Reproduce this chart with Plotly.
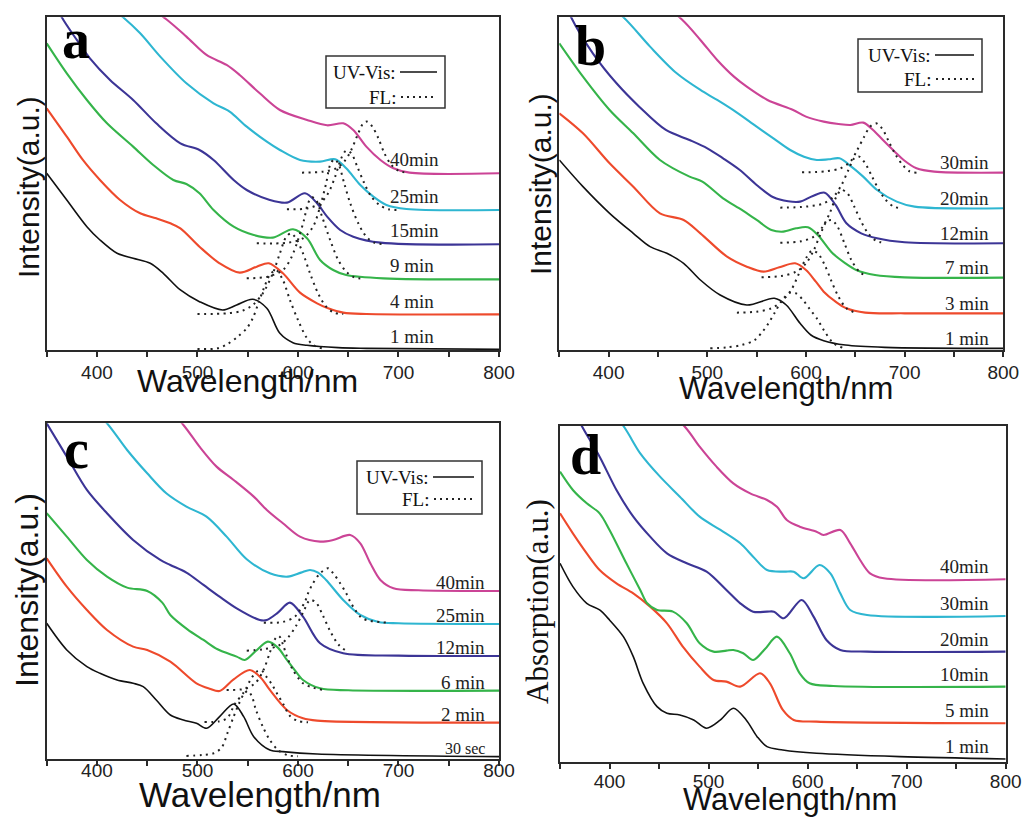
import plotly.graph_objects as go

W, H = 1031, 817

COLORS = ["#111111", "#EE4A2C", "#35B44A", "#3C3596", "#2EB6D1", "#CB4496"]

# ---------------- panel a (wavelength nm, intensity a.u.) ----------------
A_UV_1 = [(350,530),(370,450),(390,370),(403,330),(420,290),(436,275),(453,260),(466,230),(483,180),(502,145),(525,120),(539,135),(555,152),(569,125),(582,50),(595,22),(609,14),(640,7),(668,5),(800,2)]
A_UV_2 = [(350,725),(370,640),(386,570),(403,510),(423,450),(443,410),(459,395),(473,380),(483,365),(502,310),(522,260),(542,232),(559,250),(571,260),(585,230),(602,172),(619,140),(630,125),(645,112),(668,108),(800,107)]
A_UV_3 = [(350,920),(370,830),(390,750),(410,680),(436,610),(456,555),(476,510),(489,498),(502,470),(516,420),(536,370),(556,345),(575,337),(595,362),(609,335),(622,270),(635,240),(648,225),(685,215),(800,212)]
A_UV_4 = [(350,1090),(365,998),(380,930),(393,875),(413,810),(436,750),(459,680),(483,620),(502,600),(516,570),(536,510),(549,480),(572,450),(589,442),(607,470),(619,440),(629,400),(642,360),(655,340),(682,322),(800,317)]
A_UV_5 = [(350,1180),(400,1060),(426,998),(443,950),(463,880),(489,800),(516,740),(532,715),(549,670),(569,625),(582,600),(602,570),(622,565),(637,572),(648,545),(662,495),(675,460),(688,435),(708,423),(800,420)]
A_UV_6 = [(350,1250),(420,1100),(469,992),(489,940),(509,885),(529,855),(542,825),(562,770),(582,720),(609,690),(629,674),(645,680),(655,660),(668,610),(682,570),(695,545),(711,532),(800,530)]

A_FL_1 = [(500,3),(520,5),(530,18),(540,40),(549,65),(555,95),(560,135),(566,185),(572,225),(578,240),(585,210),(592,150),(600,90),(608,40),(615,15),(625,4)]
A_FL_2 = [(500,108),(530,110),(545,118),(555,135),(565,170),(575,230),(582,290),(588,338),(593,350),(598,335),(605,290),(612,230),(620,170),(628,130),(636,112),(645,108)]
A_FL_3 = [(549,215),(570,220),(585,240),(593,275),(600,330),(606,390),(610,440),(614,458),(618,450),(624,400),(632,330),(640,270),(648,235),(656,218),(665,214)]
A_FL_4 = [(559,320),(590,322),(605,335),(615,370),(622,430),(628,500),(632,555),(636,572),(640,560),(646,500),(652,440),(660,380),(668,340),(676,322),(685,318)]
A_FL_5 = [(589,422),(610,425),(622,440),(630,470),(637,520),(643,575),(648,598),(653,590),(659,550),(666,500),(673,460),(681,435),(690,422),(700,420)]
A_FL_6 = [(604,532),(625,535),(638,545),(646,565),(653,600),(660,650),(665,680),(669,685),(674,670),(680,635),(686,590),(693,555),(700,538),(708,532)]

A_LABELS = ["1 min", "4 min", "9 min", "15min", "25min", "40min"]

# ---------------- panel b ----------------
B_UV_1 = [(350,570),(374,490),(401,410),(425,350),(442,310),(459,290),(476,260),(493,210),(513,165),(540,135),(568,155),(580,135),(594,80),(605,45),(618,28),(640,15),(680,8),(800,5)]
B_UV_2 = [(350,710),(374,650),(401,560),(425,490),(452,410),(476,390),(493,350),(520,280),(540,250),(557,235),(573,248),(589,260),(600,240),(610,205),(618,175),(630,145),(641,125),(660,112),(700,110),(800,110)]
B_UV_3 = [(350,920),(374,820),(401,720),(425,650),(452,570),(482,520),(495,505),(516,455),(535,420),(550,390),(565,360),(577,355),(590,365),(602,368),(612,345),(627,290),(640,260),(651,240),(670,225),(700,218),(800,217)]
B_UV_4 = [(350,1090),(362,998),(384,890),(408,800),(431,730),(458,660),(482,630),(500,605),(516,575),(533,540),(550,495),(567,458),(582,446),(594,445),(607,462),(619,472),(630,435),(641,380),(656,350),(672,335),(700,323),(800,320)]
B_UV_5 = [(350,1180),(380,1080),(415,998),(442,910),(469,830),(493,780),(510,750),(526,720),(550,670),(567,635),(584,600),(598,580),(611,570),(623,572),(634,575),(646,550),(658,520),(672,480),(692,445),(710,430),(800,425)]
B_UV_6 = [(350,1250),(420,1120),(474,992),(493,930),(510,870),(527,820),(540,790),(561,750),(587,720),(600,700),(618,685),(633,678),(645,675),(658,682),(668,660),(678,630),(690,595),(699,570),(712,545),(730,535),(800,532)]

B_FL_1 = [(503,5),(520,8),(535,15),(548,30),(556,55),(562,80),(568,110),(576,150),(584,172),(590,170),(597,150),(604,122),(611,95),(618,60),(628,20),(638,6)]
B_FL_2 = [(530,112),(550,115),(565,125),(575,145),(585,180),(593,230),(600,275),(606,298),(612,290),(619,255),(626,205),(633,160),(641,125),(650,112)]
B_FL_3 = [(555,218),(575,222),(590,235),(600,260),(608,300),(615,350),(621,385),(626,390),(632,370),(639,320),(646,270),(654,235),(662,220)]
B_FL_4 = [(574,322),(595,326),(608,340),(617,370),(624,410),(630,455),(636,480),(642,470),(649,430),(656,385),(663,350),(671,328),(680,321)]
B_FL_5 = [(574,427),(600,430),(618,440),(628,460),(636,495),(643,540),(649,575),(654,580),(660,560),(667,520),(674,480),(681,450),(689,430),(698,425)]
B_FL_6 = [(596,533),(620,536),(635,545),(645,565),(652,600),(659,640),(665,670),(671,680),(677,665),(684,625),(691,585),(698,555),(705,536),(712,532)]

B_LABELS = ["1 min", "3 min", "7 min", "12min", "20min", "30min"]

# ---------------- panel c ----------------
C_UV_1 = [(350,408),(370,328),(390,278),(403,258),(420,238),(436,228),(446,218),(459,178),(473,133),(486,118),(499,108),(509,93),(522,128),(536,166),(546,128),(556,68),(572,28),(585,23),(619,16),(800,8)]
C_UV_2 = [(350,603),(370,518),(390,448),(410,388),(436,338),(450,328),(473,293),(499,228),(512,212),(522,205),(536,240),(552,268),(563,245),(572,208),(589,148),(605,123),(619,116),(800,110)]
C_UV_3 = [(350,738),(370,668),(390,598),(410,548),(430,515),(450,505),(465,470),(473,433),(490,390),(506,358),(520,330),(539,308),(547,298),(558,325),(570,353),(580,335),(589,298),(600,255),(605,238),(622,213),(650,207),(800,206)]
C_UV_4 = [(350,1008),(370,908),(390,808),(410,738),(436,658),(463,598),(473,583),(489,560),(506,523),(522,488),(539,453),(562,418),(569,418),(580,440),(592,470),(605,428),(622,348),(645,318),(700,311),(800,310)]
C_UV_5 = [(350,1200),(380,1100),(410,1008),(430,928),(450,858),(469,798),(489,758),(509,728),(529,668),(549,600),(572,558),(590,548),(603,560),(612,568),(620,560),(628,538),(645,478),(662,433),(680,412),(700,408),(800,406)]
C_UV_6 = [(400,1250),(450,1120),(486,1003),(502,938),(519,878),(536,838),(556,788),(569,748),(585,708),(602,668),(622,653),(635,658),(652,673),(662,648),(672,588),(682,538),(695,513),(720,507),(800,505)]

C_FL_1 = [(489,10),(505,13),(516,18),(524,35),(530,80),(536,128),(541,165),(546,195),(550,205),(554,190),(558,150),(565,98),(572,58),(580,28),(590,12),(600,9)]
C_FL_2 = [(507,112),(522,114),(530,125),(537,165),(547,205),(554,245),(560,265),(564,266),(568,250),(574,225),(579,198),(585,168),(592,130),(600,115),(610,111)]
C_FL_3 = [(529,208),(548,212),(558,230),(566,270),(572,320),(577,360),(581,370),(585,345),(589,308),(595,268),(605,228),(615,215),(625,208)]
C_FL_4 = [(549,326),(565,330),(580,340),(590,365),(598,400),(605,440),(612,478),(618,470),(625,430),(632,385),(640,345),(648,325)]
C_FL_5 = [(566,410),(585,412),(597,428),(602,448),(607,473),(610,498),(614,523),(622,558),(630,573),(635,558),(642,528),(648,498),(652,473),(657,448),(662,428),(668,418),(688,410)]

C_LABELS = ["30 sec", "2 min", "6 min", "12min", "25min", "40min"]

# ---------------- panel d (absorption) ----------------
D_UV_1 = [(350,597),(363,527),(377,477),(390,457),(400,427),(414,377),(424,317),(434,237),(448,167),(458,147),(471,142),(485,127),(498,102),(512,127),(525,162),(538,127),(549,77),(559,47),(575,37),(609,27),(693,17),(800,10)]
D_UV_2 = [(350,747),(363,687),(377,627),(390,577),(407,537),(424,507),(441,467),(458,417),(474,347),(491,287),(505,247),(518,242),(532,227),(552,267),(562,237),(575,157),(586,127),(609,122),(800,117)]
D_UV_3 = [(350,872),(363,817),(377,777),(390,747),(400,697),(417,597),(431,517),(438,477),(448,457),(464,452),(478,417),(491,357),(505,332),(518,335),(525,337),(535,327),(545,307),(557,340),(569,377),(582,327),(592,267),(602,237),(626,229),(800,227)]
D_UV_4 = [(350,1140),(372,1009),(390,917),(407,817),(424,737),(441,677),(458,627),(478,597),(498,572),(518,517),(532,477),(545,452),(559,452),(566,452),(576,432),(594,487),(606,437),(619,367),(633,337),(660,332),(800,332)]
D_UV_5 = [(350,1250),(380,1130),(414,1009),(431,927),(451,857),(471,797),(491,737),(512,697),(532,657),(545,617),(559,577),(576,572),(586,572),(596,552),(612,592),(623,567),(633,507),(643,457),(660,442),(800,439)]
D_UV_6 = [(400,1200),(440,1100),(476,1007),(491,947),(508,887),(525,837),(542,807),(559,787),(569,767),(579,727),(592,707),(609,692),(616,682),(633,697),(643,657),(653,607),(663,567),(677,552),(800,549)]

D_LABELS = ["1 min", "5 min", "10min", "20min", "30min", "40min"]

X_TICKS = [350, 400, 450, 500, 550, 600, 650, 700, 750, 800]
X_TICK_TEXT = ["", "400", "", "500", "", "600", "", "700", "", "800"]


def px(x):
    return x / W


def py(y):
    return 1 - y / H


PANELS = [
    dict(letter="a", box=(46.7, 17.3, 499, 350), ymax=998,
         uv=[A_UV_1, A_UV_2, A_UV_3, A_UV_4, A_UV_5, A_UV_6],
         fl=[A_FL_1, A_FL_2, A_FL_3, A_FL_4, A_FL_5, A_FL_6],
         labels=A_LABELS, lab_x=690, lab_anchor="left", lab_dy=40,
         letter_pos=(76, 39), legend=(326, 56, 445, 108, 398, 72, 97),
         ytitle="Intensity(a.u.)", ytitle_pos=(28, 187), yfont=("Liberation Sans", 30),
         xtitle_pos=(247, 381), xfont=32, standoff=-1),
    dict(letter="b", box=(559.3, 17.3, 1003.3, 350), ymax=998,
         uv=[B_UV_1, B_UV_2, B_UV_3, B_UV_4, B_UV_5, B_UV_6],
         fl=[B_FL_1, B_FL_2, B_FL_3, B_FL_4, B_FL_5, B_FL_6],
         labels=B_LABELS, lab_x=788, lab_anchor="right", lab_dy=30,
         letter_pos=(590, 46), legend=(858, 39, 982, 92, 933, 55, 79),
         ytitle="Intensity(a.u.)", ytitle_pos=(540, 184), yfont=("Liberation Sans", 30),
         xtitle_pos=(786, 388), xfont=31, standoff=-1),
    dict(letter="c", box=(46.7, 423.3, 499, 759.3), ymax=1008,
         uv=[C_UV_1, C_UV_2, C_UV_3, C_UV_4, C_UV_5, C_UV_6],
         fl=[C_FL_1, C_FL_2, C_FL_3, C_FL_4, C_FL_5],
         labels=C_LABELS, lab_x=788, lab_anchor="right", lab_dy=25,
         letter_pos=(76, 449), legend=(357, 461, 482, 514, 431, 477, 499),
         ytitle="Intensity(a.u.)", ytitle_pos=(27, 590), yfont=("Liberation Sans", 32),
         xtitle_pos=(260, 794), xfont=35, standoff=-12),
    dict(letter="d", box=(560, 426, 1005.7, 762.3), ymax=1009,
         uv=[D_UV_1, D_UV_2, D_UV_3, D_UV_4, D_UV_5, D_UV_6],
         fl=[],
         labels=D_LABELS, lab_x=785, lab_anchor="right", lab_dy=37,
         letter_pos=(585, 455), legend=None,
         ytitle="Absorption(a.u.)", ytitle_pos=(537, 602), yfont=("Liberation Serif", 31),
         xtitle_pos=(790, 799), xfont=31, standoff=-4),
]

fig = go.Figure()
annotations = []
shapes = []
AX = "#2a2a2a"

for i, p in enumerate(PANELS):
    n = "" if i == 0 else str(i + 1)
    xa, ya = "x" + n, "y" + n
    x0, y0, x1, y1 = p["box"]

    for k, curve in enumerate(p["uv"]):
        xs, ys = zip(*curve)
        fig.add_trace(go.Scatter(x=xs, y=ys, mode="lines", xaxis=xa, yaxis=ya,
                                 line=dict(color=COLORS[k], width=1.6 if k == 0 else 2.1,
                                           shape="spline", smoothing=0.9),
                                 showlegend=False, hoverinfo="skip"))
    for curve in p["fl"]:
        xs, ys = zip(*curve)
        fig.add_trace(go.Scatter(x=xs, y=ys, mode="lines", xaxis=xa, yaxis=ya,
                                 line=dict(color="#222222", width=2, dash="2px,4.5px",
                                           shape="spline", smoothing=0.9),
                                 showlegend=False, hoverinfo="skip"))

    fig.layout["xaxis" + n] = dict(
        domain=[px(x0), px(x1)], anchor=ya, range=[350, 800],
        tickmode="array", tickvals=X_TICKS, ticktext=X_TICK_TEXT,
        ticks="outside", ticklen=5, tickwidth=1.5, tickcolor=AX,
        ticklabelstandoff=p["standoff"], automargin=False,
        tickfont=dict(family="Liberation Sans, Arial", size=19, color="#222"),
        showline=True, linecolor=AX, linewidth=2, mirror=True,
        showgrid=False, zeroline=False, fixedrange=True)
    fig.layout["yaxis" + n] = dict(
        domain=[py(y1), py(y0)], anchor=xa, range=[0, p["ymax"]],
        showticklabels=False, ticks="", automargin=False,
        showline=True, linecolor=AX, linewidth=2, mirror=True,
        showgrid=False, zeroline=False, fixedrange=True)

    # time labels, placed just above each curve's flat tail
    for k, lab in enumerate(p["labels"]):
        base = p["uv"][k][-1][1]
        annotations.append(dict(
            x=p["lab_x"], y=base + p["lab_dy"], xref=xa, yref=ya,
            text=lab, showarrow=False, xanchor=p["lab_anchor"], yanchor="middle",
            font=dict(family="Liberation Serif, Times New Roman", size=16 if lab == "30 sec" else 19,
                      color="#222")))

    # panel letter
    lx, ly = p["letter_pos"]
    annotations.append(dict(x=px(lx), y=py(ly), xref="paper", yref="paper",
                            text="<b>%s</b>" % p["letter"], showarrow=False,
                            xanchor="center", yanchor="middle",
                            font=dict(family="Liberation Serif, Times New Roman", size=56, color="#000")))

    # y title
    tx, ty = p["ytitle_pos"]
    fam, sz = p["yfont"]
    annotations.append(dict(x=px(tx), y=py(ty), xref="paper", yref="paper",
                            text=p["ytitle"], textangle=-90, showarrow=False,
                            xanchor="center", yanchor="middle",
                            font=dict(family=fam, size=sz, color="#111")))
    # x title
    tx, ty = p["xtitle_pos"]
    annotations.append(dict(x=px(tx), y=py(ty), xref="paper", yref="paper",
                            text="Wavelength/nm", showarrow=False,
                            xanchor="center", yanchor="middle",
                            font=dict(family="Liberation Sans, Arial", size=p["xfont"], color="#111")))

    # inset key box
    if p["legend"]:
        bx0, by0, bx1, by1, tx_end, yuv, yfl = p["legend"]
        shapes.append(dict(type="rect", xref="paper", yref="paper",
                           x0=px(bx0), x1=px(bx1), y0=py(by1), y1=py(by0),
                           line=dict(color="#333", width=1.5), fillcolor="rgba(255,255,255,0)"))
        annotations.append(dict(x=px(tx_end), y=py(yuv), xref="paper", yref="paper",
                                text="UV-Vis:", showarrow=False, xanchor="right", yanchor="middle",
                                font=dict(family="Liberation Serif, Times New Roman", size=19, color="#111")))
        annotations.append(dict(x=px(tx_end), y=py(yfl), xref="paper", yref="paper",
                                text="FL:", showarrow=False, xanchor="right", yanchor="middle",
                                font=dict(family="Liberation Serif, Times New Roman", size=19, color="#111")))
        shapes.append(dict(type="line", xref="paper", yref="paper",
                           x0=px(tx_end + 2), x1=px(bx1 - 8), y0=py(yuv), y1=py(yuv),
                           line=dict(color="#111", width=1.6)))
        shapes.append(dict(type="line", xref="paper", yref="paper",
                           x0=px(tx_end + 3), x1=px(bx1 - 8), y0=py(yfl), y1=py(yfl),
                           line=dict(color="#222", width=1.8, dash="2px,4px")))

fig.update_layout(width=W, height=H, autosize=False,
                  margin=dict(l=0, r=0, t=0, b=0, pad=0, autoexpand=False),
                  paper_bgcolor="white", plot_bgcolor="white",
                  annotations=annotations, shapes=shapes, showlegend=False)

fig.write_html("out.html",
               config={"displayModeBar": False, "responsive": False},
               post_script="document.body.style.margin='0px';document.body.style.overflow='hidden';")
